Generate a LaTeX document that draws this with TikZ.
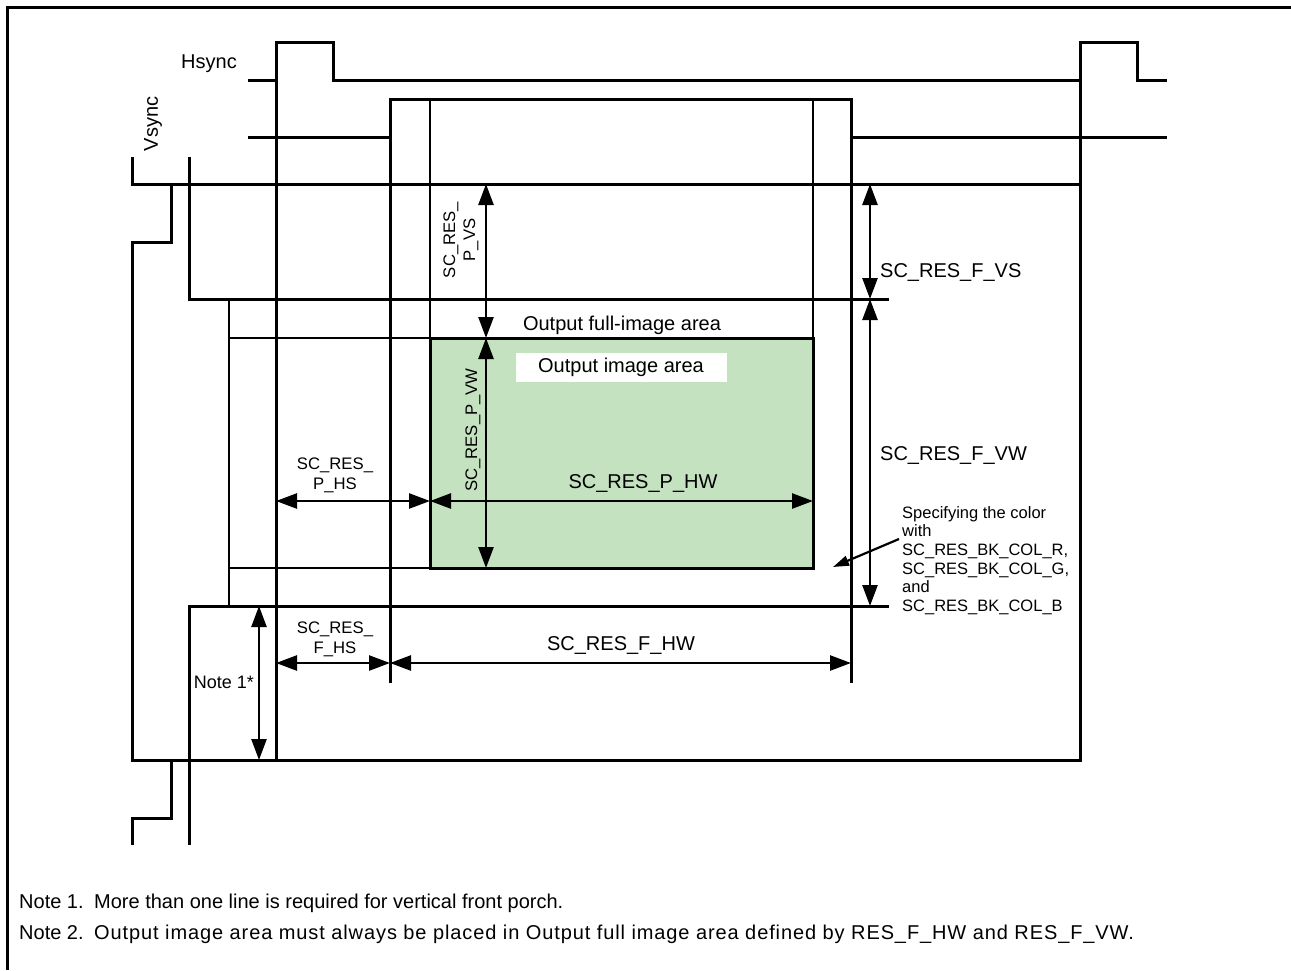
\documentclass[tikz,border=0pt]{standalone}
\usepackage{fontspec}
\setmainfont{Liberation Sans}
\usetikzlibrary{arrows.meta, positioning}

\definecolor{areagreen}{RGB}{196,225,192}

\begin{document}
\begin{tikzpicture}[x=1pt, y=-1pt,
        wave/.style={line width=3pt},
        thin/.style={line width=2.2pt},
        dim/.style={line width=2.5pt,
                    {Triangle[length=21pt, width=15pt]}-{Triangle[length=21pt, width=15pt]}},
        pointer/.style={line width=2.2pt, -{Triangle[length=16pt, width=10pt]}},
        lbl/.style={font=\fontsize{20}{20}\selectfont, inner sep=0pt, align=center},
        dimlbl/.style={font=\fontsize{16.7}{20}\selectfont, inner sep=0pt, align=center},
        small/.style={font=\fontsize{16.5}{18.7}\selectfont, inner sep=0pt, align=left}]
      \useasboundingbox (0,0) rectangle (1291,970);
      \draw[wave] (1291,7) -- (7,7) -- (7,970);

      % sync signals
      \draw[wave] (248,80) -- (276,80) -- (276,42) -- (333,42) -- (333,80) -- (1080,80)
                  -- (1080,42) -- (1137,42) -- (1137,80) -- (1167,80);
      \draw[wave] (248,137) -- (390,137) -- (390,99) -- (851,99) -- (851,137) -- (1167,137);
      \draw[wave] (132,157) -- (132,184) -- (171,184) -- (171,242) -- (132,242) -- (132,760)
                  -- (171,760) -- (171,818) -- (132,818) -- (132,845);
      \draw[wave] (189,157) -- (189,299) -- (889,299);
      \draw[wave] (889,606) -- (189,606) -- (189,845);

      % frame and areas
      \draw[wave] (171,184) -- (1080,184) -- (1080,760) -- (171,760);
      \draw[wave] (276,42) -- (276,760);
      \draw[wave] (1080,42) -- (1080,184);
      \draw[wave] (390,99) -- (390,683);
      \draw[wave] (851,99) -- (851,683);
      \draw[thin] (430,99) -- (430,338);
      \draw[thin] (813,99) -- (813,338);
      \draw[thin] (229,299) -- (229,606);
      \draw[thin] (229,338) -- (430,338);
      \draw[thin] (229,568) -- (430,568);
      \draw[wave, fill=areagreen] (430,338) rectangle (813,568);

      \coordinate (pvsT) at (486,184);
      \coordinate (pvsB) at (486,338);
      \coordinate (pvwB) at (486,568);
      \coordinate (phsL) at (276,501);
      \coordinate (phsR) at (430,501);
      \coordinate (phwR) at (813,501);
      \coordinate (fvsT) at (870,184);
      \coordinate (fvsB) at (870,299);
      \coordinate (fvwB) at (870,606);
      \coordinate (fhsL) at (276,663);
      \coordinate (fhsR) at (390,663);
      \coordinate (fhwR) at (851,663);
      \coordinate (noteT) at (259,606);
      \coordinate (noteB) at (259,760);
      \coordinate (colTail) at (899,539);
      \coordinate (colHead) at (833,567);

      \draw[dim] (pvsT) -- (pvsB);
      \draw[dim] (pvsB) -- (pvwB);
      \draw[dim] (phsL) -- (phsR);
      \draw[dim] (phsR) -- (phwR);
      \draw[dim] (fvsT) -- (fvsB);
      \draw[dim] (fvsB) -- (fvwB);
      \draw[dim] (fhsL) -- (fhsR);
      \draw[dim] (fhsR) -- (fhwR);
      \draw[dim] (noteT) -- (noteB);
      \draw[pointer] (colTail) -- (colHead);

      \node[lbl, anchor=base east] (hsync) at (237,68) {Hsync};
      \node[lbl, rotate=90] (vsync) at (153,124) {Vsync};
      \node[dimlbl, rotate=90] (pvs) at (461,240) {SC\_RES\_\\P\_VS};
      \node[dimlbl, rotate=90] (pvw) at (473,430) {SC\_RES\_P\_VW};
      \node[dimlbl] (phs) at (335,475) {SC\_RES\_\\P\_HS};
      \node[lbl, anchor=base] (phw) at (643,488) {SC\_RES\_P\_HW};
      \node[lbl, anchor=base] (full) at (622,330) {Output full-image area};
      \node[lbl, fill=white, minimum width=211pt, minimum height=29pt] (img) at (621,367) {Output image area};
      \node[lbl, anchor=base west] (fvs) at (880,277) {SC\_RES\_F\_VS};
      \node[lbl, anchor=base west] (fvw) at (880,460) {SC\_RES\_F\_VW};
      \node[dimlbl] (fhs) at (335,639) {SC\_RES\_\\F\_HS};
      \node[lbl, anchor=base] (fhw) at (621,650) {SC\_RES\_F\_HW};
      \node[lbl, font=\fontsize{18}{18}\selectfont, anchor=base] (note1) at (224,688) {Note 1*};
      \node[small, anchor=north west] (bkcol) at (902,506)
           {Specifying the color\\with\\SC\_RES\_BK\_COL\_R,\\SC\_RES\_BK\_COL\_G,\\and\\SC\_RES\_BK\_COL\_B};

      \node[lbl, anchor=base west] (n1) at (19,908) {Note 1.};
      \node[lbl, anchor=base west] (n1txt) at (94,908) {More than one line is required for vertical front porch.};
      \node[lbl, anchor=base west] (n2) at (19,939) {Note 2.};
      \node[lbl, anchor=base west] (n2txt) at (94,939)
           {\addfontfeatures{LetterSpace=4.5}Output image area must always be placed in Output full image area defined by RES\_F\_HW and RES\_F\_VW.};
    \end{tikzpicture}
\end{document}
